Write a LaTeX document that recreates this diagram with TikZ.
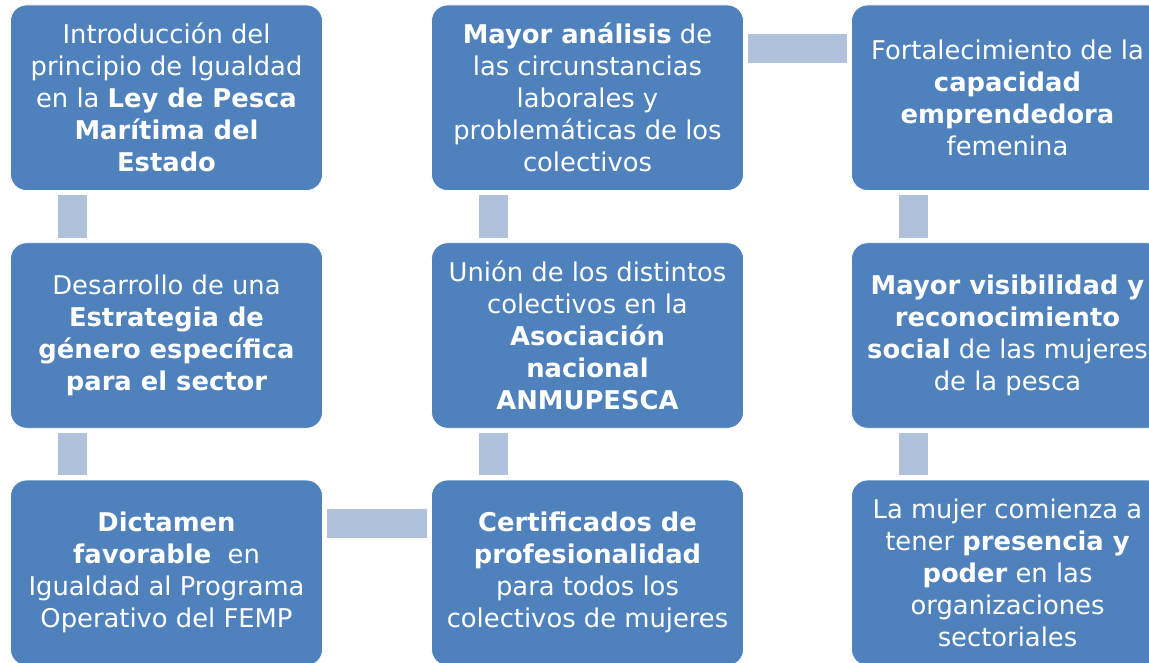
\documentclass[tikz,border=0pt]{standalone}
\usepackage{fontspec}
\setmainfont{DejaVu Sans}
\definecolor{boxblue}{HTML}{4F81BD}
\definecolor{barblue}{HTML}{B0C1DC}
\tikzset{
  stage/.style={rectangle, rounded corners=16pt, fill=boxblue, draw=white, line width=0.8pt,
    minimum width=312pt, minimum height=185.5pt, inner sep=0pt, align=center, text=white,
    font=\fontsize{25.8pt}{32pt}\selectfont},
  bar/.style={draw=barblue, line width=28.5pt}
}
\begin{document}
\begin{tikzpicture}[x=1pt,y=-1pt]
\useasboundingbox (0,0) rectangle (1149,663);
\clip (0,0) rectangle (1149,663);
\node[stage] (a1) at (166.5,97.75) {Introducción del\\principio de Igualdad\\en la \textbf{Ley de Pesca}\\\textbf{Marítima del}\\\textbf{Estado}};
\node[stage] (a2) at (166.5,335.5) {Desarrollo de una\\\textbf{Estrategia de}\\\textbf{género específica}\\\textbf{para el sector}};
\node[stage] (a3) at (166.5,572.75) {\textbf{Dictamen}\\\textbf{favorable}\ \ en\\Igualdad al Programa\\Operativo del FEMP};
\node[stage] (b1) at (587.5,97.75) {\textbf{Mayor análisis} de\\las circunstancias\\laborales y\\problemáticas de los\\colectivos};
\node[stage] (b2) at (587.5,335.5) {Unión de los distintos\\colectivos en la\\\textbf{Asociación}\\\textbf{nacional}\\\textbf{ANMUPESCA}};
\node[stage] (b3) at (587.5,572.75) {\textbf{Certificados de}\\\textbf{profesionalidad}\\para todos los\\colectivos de mujeres};
\node[stage] (c1) at (1007.5,97.75) {Fortalecimiento de la\\\textbf{capacidad}\\\textbf{emprendedora}\\femenina};
\node[stage] (c2) at (1007.5,335.5) {\textbf{Mayor visibilidad y}\\\textbf{reconocimiento}\\\textbf{social} de las mujeres\\de la pesca};
\node[stage] (c3) at (1007.5,572.75) {La mujer comienza a\\tener \textbf{presencia y}\\\textbf{poder} en las\\organizaciones\\sectoriales};
% vertical bars
\draw[bar] ([xshift=62.5pt,yshift=-4.5pt]a1.south west) -- ([xshift=62.5pt,yshift=4.5pt]a2.north west);
\draw[bar] ([xshift=62.5pt,yshift=-4.5pt]a2.south west) -- ([xshift=62.5pt,yshift=4.5pt]a3.north west);
\draw[bar] ([xshift=62.5pt,yshift=4.5pt]b3.north west) -- ([xshift=62.5pt,yshift=-4.5pt]b2.south west);
\draw[bar] ([xshift=62.5pt,yshift=4.5pt]b2.north west) -- ([xshift=62.5pt,yshift=-4.5pt]b1.south west);
\draw[bar] ([xshift=62.5pt,yshift=-4.5pt]c1.south west) -- ([xshift=62.5pt,yshift=4.5pt]c2.north west);
\draw[bar] ([xshift=62.5pt,yshift=-4.5pt]c2.south west) -- ([xshift=62.5pt,yshift=4.5pt]c3.north west);
% horizontal bars
\draw[bar] ([xshift=4.5pt,yshift=-44pt]a3.north east) -- ([xshift=-4.5pt,yshift=-44pt]b3.north west);
\draw[bar] ([xshift=4.5pt,yshift=-44pt]b1.north east) -- ([xshift=-4.5pt,yshift=-44pt]c1.north west);
\end{tikzpicture}
\end{document}
